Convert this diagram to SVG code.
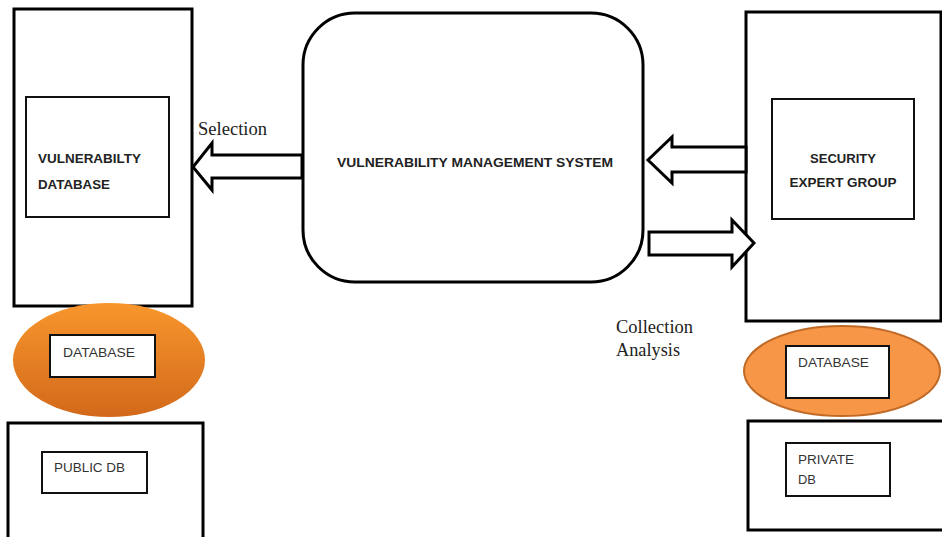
<svg xmlns="http://www.w3.org/2000/svg" width="942" height="537" viewBox="0 0 942 537">
  <defs>
    <linearGradient id="orangeShade" x1="0" y1="0" x2="0" y2="1">
      <stop offset="0" stop-color="#F8962C"/>
      <stop offset="1" stop-color="#D2691B"/>
    </linearGradient>
  </defs>
  <style>
    .frame { fill: #fff; stroke: #000; stroke-width: 3; }
    .inner { fill: #fff; stroke: #111; stroke-width: 2; }
    .label { font-family: "Liberation Sans", Arial, sans-serif; font-size: 12.5px; fill: #333; }
    .bold { font-weight: bold; fill: #222; }
    .serif { font-family: "Liberation Serif", "Times New Roman", serif; font-size: 19px; fill: #222; }
    .arrow { fill: #fff; stroke: #000; stroke-width: 3; stroke-linejoin: miter; }
  </style>
  <rect width="942" height="537" fill="#fff"/>

  <!-- left column: vulnerability database -->
  <g id="vuln-db">
    <rect class="frame" x="14" y="9" width="178" height="297"/>
    <rect class="inner" x="26" y="97" width="143" height="120"/>
    <text class="label bold" x="38" y="163" textLength="103" lengthAdjust="spacingAndGlyphs">VULNERABILTY</text>
    <text class="label bold" x="38" y="189" textLength="72" lengthAdjust="spacingAndGlyphs">DATABASE</text>
  </g>

  <g id="public-database">
    <ellipse cx="109" cy="360" rx="96" ry="57" fill="url(#orangeShade)"/>
    <rect class="inner" x="50" y="335" width="105" height="42"/>
    <text class="label" x="63" y="357" textLength="72" lengthAdjust="spacingAndGlyphs">DATABASE</text>
  </g>

  <g id="public-db">
    <rect class="frame" x="8" y="423" width="195" height="118"/>
    <rect class="inner" x="42" y="452" width="105" height="41"/>
    <text class="label" x="54" y="472" textLength="71" lengthAdjust="spacingAndGlyphs">PUBLIC DB</text>
  </g>

  <!-- centre: management system -->
  <g id="vms">
    <rect class="frame" x="303" y="13" width="340" height="269" rx="52" ry="52"/>
    <text class="label bold" x="337" y="167" textLength="276" lengthAdjust="spacingAndGlyphs">VULNERABILITY MANAGEMENT SYSTEM</text>
  </g>

  <!-- right column: security expert group -->
  <g id="expert-group">
    <rect class="frame" x="746" y="12" width="195" height="309"/>
    <rect class="inner" x="772" y="99" width="142" height="120"/>
    <text class="label bold" x="843" y="163" text-anchor="middle" textLength="66" lengthAdjust="spacingAndGlyphs">SECURITY</text>
    <text class="label bold" x="843" y="187" text-anchor="middle" textLength="107" lengthAdjust="spacingAndGlyphs">EXPERT GROUP</text>
  </g>

  <g id="private-database">
    <ellipse cx="842" cy="371" rx="98" ry="45" fill="#F79646" stroke="#C06A28" stroke-width="2"/>
    <rect class="inner" x="786" y="346" width="103" height="52"/>
    <text class="label" x="798" y="367" textLength="71" lengthAdjust="spacingAndGlyphs">DATABASE</text>
  </g>

  <g id="private-db">
    <rect class="frame" x="748" y="421" width="200" height="109"/>
    <rect class="inner" x="786" y="443" width="104" height="53"/>
    <text class="label" x="798" y="464" textLength="56" lengthAdjust="spacingAndGlyphs">PRIVATE</text>
    <text class="label" x="798" y="484" textLength="18" lengthAdjust="spacingAndGlyphs">DB</text>
  </g>

  <!-- block arrows between the boxes -->
  <g id="connectors">
    <polygon class="arrow" points="302,155 212,155 212,143 193,167 212,190 212,178 302,178"/>
    <polygon class="arrow" points="746,147 672,147 672,137 648,160 672,183 672,172 746,172"/>
    <polygon class="arrow" points="649,232 732,232 732,220 754,243 732,267 732,255 649,255"/>
    <text class="serif" x="198" y="135" textLength="69" lengthAdjust="spacingAndGlyphs">Selection</text>
    <text class="serif" x="616" y="333" textLength="77" lengthAdjust="spacingAndGlyphs">Collection</text>
    <text class="serif" x="616" y="356" textLength="64" lengthAdjust="spacingAndGlyphs">Analysis</text>
  </g>
</svg>
